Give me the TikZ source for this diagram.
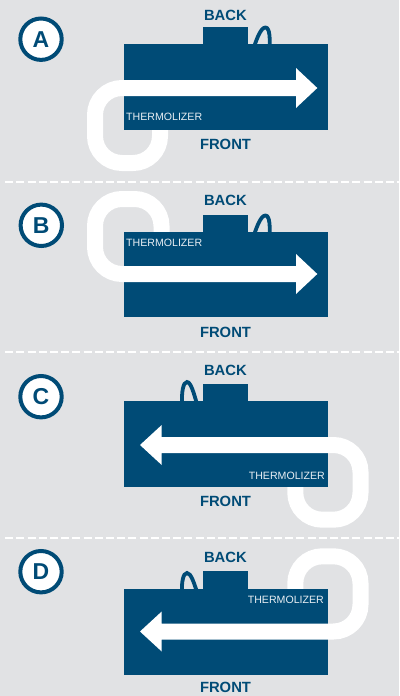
\documentclass[tikz,border=0pt]{standalone}
\usepackage{fontspec}
\setmainfont{Liberation Sans}
\definecolor{bg}{HTML}{E1E2E4}
\definecolor{navy}{HTML}{004B76}
\definecolor{txtw}{HTML}{E8EEF3}
\begin{document}
\begin{tikzpicture}[x=1pt,y=-1pt,
  unit/.style={fill=navy},
  loopline/.style={draw=white,line width=16pt,rounded corners=27pt},
  cord/.style={draw=navy,line width=3.8pt},
  arrowbody/.style={fill=white},
  side/.style={text=navy,font=\bfseries\fontsize{14.8}{15}\selectfont,inner sep=0pt},
  therm/.style={text=txtw,font=\fontsize{10.6}{11}\selectfont,inner sep=0pt},
  badge/.style={circle,draw=navy,line width=4pt,fill=white,minimum size=41.4pt,inner sep=0pt,text=navy,font=\bfseries\fontsize{23}{24}\selectfont},
  sep/.style={draw=white,line width=2pt,dash pattern=on 8pt off 3.2pt}]
\fill[bg] (0,0) rectangle (399,696);
\useasboundingbox (0,0) rectangle (399,696);
% separators
\draw[sep] (5.2,181.7) -- (399,181.7);
\draw[sep] (5.2,352.3) -- (399,352.3);
\draw[sep] (5.2,538.3) -- (399,538.3);

% ---------- A ----------
\draw[loopline] (140,88) -- (95,88) -- (95,163) -- (160,163) -- (160,115);
\draw[cord] (254,47) .. controls (257,38) and (261,27.5) .. (265.5,27.5) .. controls (270,27.5) and (270,40) .. (269.5,47);
\fill[unit] (124,44) rectangle (328,129.7);
\fill[unit] (203,27) rectangle (248,44.5);
\fill[arrowbody] (124,80) -- (296,80) -- (296,68) -- (317.3,88) -- (296,108) -- (296,96) -- (124,96) -- cycle;
\node[therm,anchor=west] (thA) at (126,117) {THERMOLIZER};
\node[side] (backA) at (225.4,15) {BACK};
\node[side] (frontA) at (225.5,144.7) {FRONT};
\node[badge] (bA) at (41,39.2) {A};

% ---------- B ----------
\draw[loopline] (140,274) -- (95,274) -- (95,199) -- (161.5,199) -- (161.5,245);
\draw[cord] (254,235) .. controls (257,226) and (261,215.5) .. (265.5,215.5) .. controls (270,215.5) and (270,228) .. (269.5,235);
\fill[unit] (124,232) rectangle (328,317.3);
\fill[unit] (203,214.7) rectangle (248,232.5);
\fill[arrowbody] (124,266) -- (296,266) -- (296,254) -- (317.3,274) -- (296,294) -- (296,282) -- (124,282) -- cycle;
\node[therm,anchor=west] (thB) at (126,242.7) {THERMOLIZER};
\node[side] (backB) at (225.4,200.7) {BACK};
\node[side] (frontB) at (225.5,332.2) {FRONT};
\node[badge] (bB) at (41.3,225.3) {B};

% ---------- C ----------
\draw[loopline] (310,445) -- (360.5,445) -- (360.5,519.7) -- (295.3,519.7) -- (295.3,480);
\draw[cord] (197,404) .. controls (194,394) and (191,382) .. (187,382) .. controls (183,382) and (181.5,393) .. (182,404);
\fill[unit] (124,401) rectangle (328,486.7);
\fill[unit] (203,384) rectangle (248,401.5);
\fill[arrowbody] (328,437) -- (161.7,437) -- (161.7,425) -- (140,445) -- (161.7,465) -- (161.7,453) -- (328,453) -- cycle;
\node[therm,anchor=east] (thC) at (325,476) {THERMOLIZER};
\node[side] (backC) at (225.4,370.7) {BACK};
\node[side] (frontC) at (225.5,501.2) {FRONT};
\node[badge] (bC) at (41,396.7) {C};

% ---------- D ----------
\draw[loopline] (310,631.5) -- (360.5,631.5) -- (360.5,556.3) -- (295.3,556.3) -- (295.3,595);
\draw[cord] (197,592) .. controls (194,583) and (191,573) .. (187,573) .. controls (183,573) and (181.5,583) .. (182,592);
\fill[unit] (124,589) rectangle (328,674.7);
\fill[unit] (203,571) rectangle (248,589.5);
\fill[arrowbody] (328,623.5) -- (161.7,623.5) -- (161.7,611.5) -- (140,631.5) -- (161.7,651.5) -- (161.7,639.5) -- (328,639.5) -- cycle;
\node[therm,anchor=east] (thD) at (324,600.3) {THERMOLIZER};
\node[side] (backD) at (225.4,557.8) {BACK};
\node[side] (frontD) at (225.5,687.2) {FRONT};
\node[badge] (bD) at (41,571.7) {D};
\end{tikzpicture}
\end{document}
